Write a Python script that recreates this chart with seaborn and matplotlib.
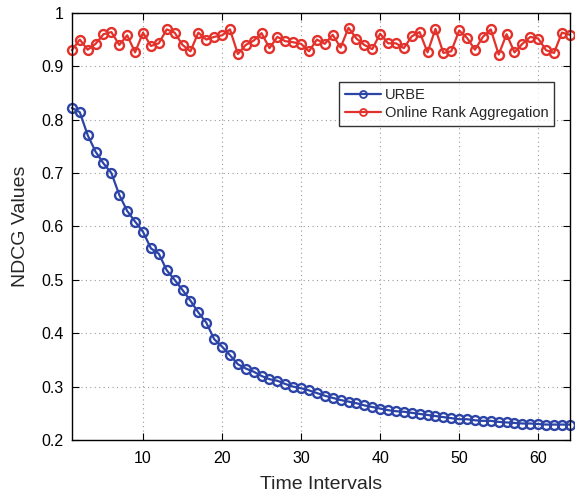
import numpy as np
import pandas as pd
import matplotlib
matplotlib.use("Agg")
import matplotlib.pyplot as plt
import seaborn as sns

# Time intervals 1..64
intervals = list(range(1, 65))

urbe = [0.822, 0.814, 0.771, 0.740, 0.718, 0.700, 0.659, 0.629, 0.609, 0.590,
        0.559, 0.549, 0.518, 0.500, 0.481, 0.461, 0.439, 0.420, 0.389, 0.375,
        0.359, 0.342, 0.334, 0.328, 0.320, 0.314, 0.311, 0.305, 0.300, 0.297,
        0.293, 0.288, 0.283, 0.279, 0.275, 0.272, 0.269, 0.265, 0.262, 0.259,
        0.256, 0.254, 0.253, 0.251, 0.249, 0.247, 0.245, 0.243, 0.241, 0.239,
        0.239, 0.237, 0.236, 0.236, 0.234, 0.233, 0.232, 0.231, 0.231, 0.230,
        0.229, 0.229, 0.229, 0.229]

online_rank = [0.930, 0.950, 0.931, 0.942, 0.960, 0.964, 0.940, 0.958, 0.926, 0.963,
               0.938, 0.943, 0.969, 0.963, 0.940, 0.928, 0.963, 0.950, 0.955, 0.958,
               0.969, 0.923, 0.940, 0.948, 0.962, 0.934, 0.955, 0.947, 0.945, 0.942,
               0.928, 0.950, 0.942, 0.959, 0.935, 0.972, 0.952, 0.940, 0.932, 0.961,
               0.943, 0.943, 0.934, 0.956, 0.964, 0.926, 0.970, 0.925, 0.928, 0.967,
               0.953, 0.931, 0.955, 0.969, 0.922, 0.960, 0.926, 0.942, 0.955, 0.952,
               0.930, 0.925, 0.963, 0.959]

series_names = ["URBE", "Online Rank Aggregation"]
series_colors = ["#2c44a6", "#e2322b"]

x_ticks = [10, 20, 30, 40, 50, 60]
y_ticks = [0.2, 0.3, 0.4, 0.5, 0.6, 0.7, 0.8, 0.9, 1.0]
y_tick_labels = ["0.2", "0.3", "0.4", "0.5", "0.6", "0.7", "0.8", "0.9", "1"]

sns.set_theme(style="white")
plt.rcParams["font.family"] = ["Liberation Sans", "DejaVu Sans"]

fig = plt.figure(figsize=(5.75, 4.95), dpi=100)
ax = fig.add_axes([0.125, 0.111, 0.866, 0.863])

for name, values, color in zip(series_names, [urbe, online_rank], series_colors):
    df = pd.DataFrame({"t": intervals, "v": values})
    sns.lineplot(data=df, x="t", y="v", ax=ax, color=color, label=name,
                 marker="o", markersize=6.4, markerfacecolor="none",
                 markeredgecolor=color, markeredgewidth=1.7, linewidth=1.6,
                 clip_on=False, zorder=3)

ax.set_xlim(1, 64)
ax.set_ylim(0.2, 1.0)
ax.set_xticks(x_ticks)
ax.set_yticks(y_ticks)
ax.set_yticklabels(y_tick_labels)
ax.grid(True, linestyle=(0, (1, 3)), color="#9a9a9a", linewidth=0.8)
ax.tick_params(direction="in", length=5, width=0.8, colors="black",
               labelsize=11.5, top=True, right=True, bottom=True, left=True)
ax.tick_params(axis="x", pad=8)
ax.tick_params(axis="y", pad=6)
for sp in ax.spines.values():
    sp.set_color("black")
    sp.set_linewidth(1.0)
    sp.set_zorder(4)

ax.set_xlabel("Time Intervals", fontsize=14, labelpad=7)
ax.set_ylabel("NDCG Values", fontsize=14, labelpad=9)

leg = ax.legend(loc="upper right", bbox_to_anchor=(0.968, 0.838),
                fontsize=10.5, frameon=True, fancybox=False, handlelength=2.5,
                handletextpad=0.25, borderpad=0.38, labelspacing=0.3,
                borderaxespad=0)
leg.get_frame().set_edgecolor("black")
leg.get_frame().set_linewidth(1.0)
for h in leg.get_lines():
    h.set_markersize(5)
    h.set_markeredgewidth(1.3)

fig.savefig("out.png", dpi=100)
